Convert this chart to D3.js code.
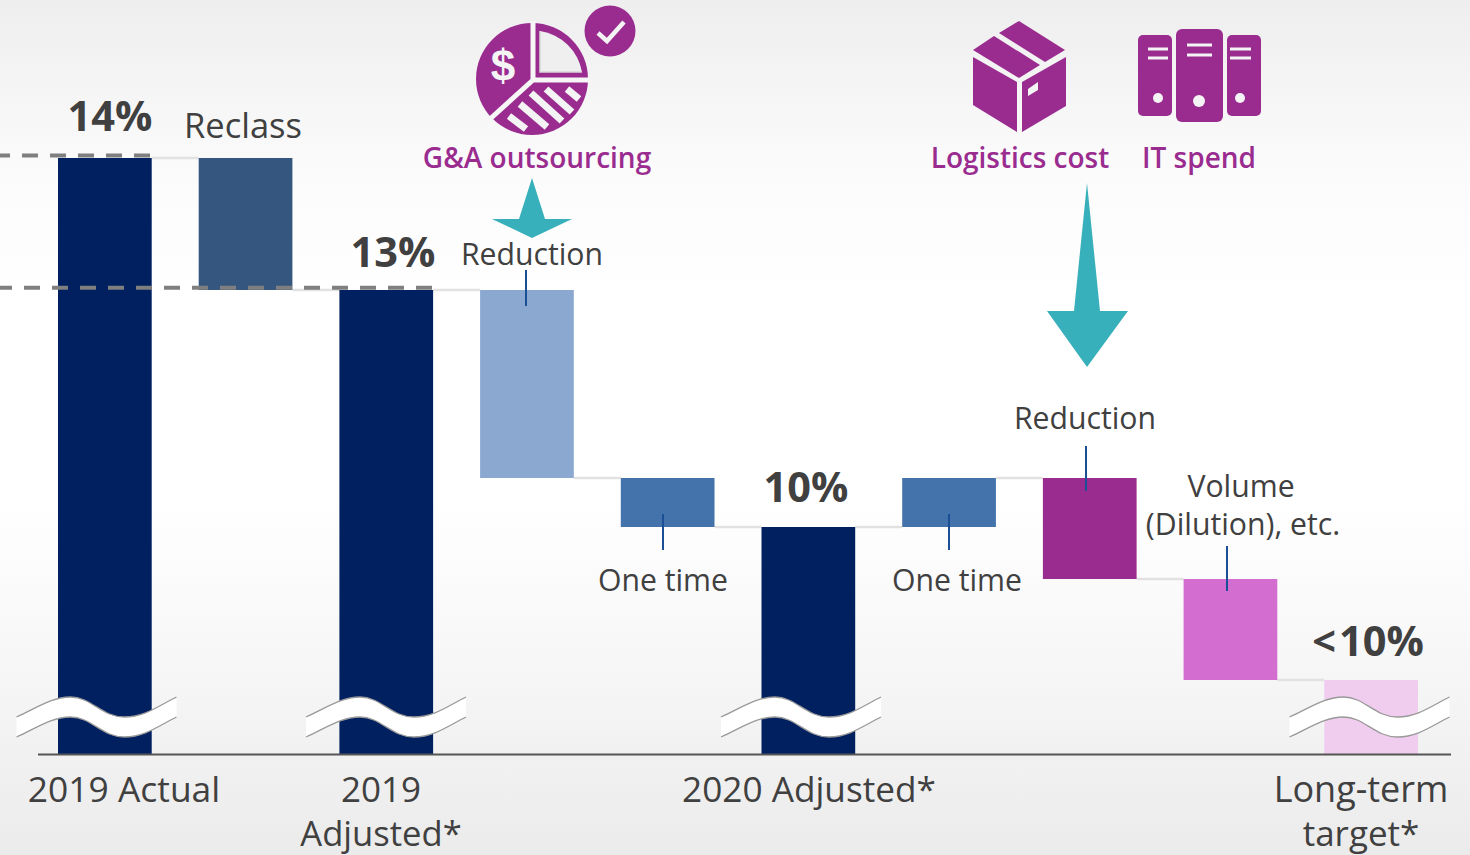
<!DOCTYPE html>
<html><head><meta charset="utf-8">
<script src="https://cdn.jsdelivr.net/npm/d3@7"></script>
<style>html,body{margin:0;padding:0;background:#fff;overflow:hidden}svg{display:block}text{font-family:"Open Sans","Noto Sans",sans-serif}</style>
</head><body><svg id="c" width="1470" height="855"></svg>
<script>
// Chart values (schematic, broken-axis waterfall; units)
const categories=["2019 Actual","Reclass","2019 Adjusted*","Reduction","One time A","2020 Adjusted*","One time B","Reduction B","Volume","Long-term target*"];
const barLow =[0,11.6,0,6.9,5.675,0,5.675,4.375,1.85,0];
const barHigh=[14.9,14.9,11.6,11.6,6.9,5.675,6.9,6.9,4.375,1.85];
const barColors=["#002060","#34567f","#002060","#8aa8d0","#4472aa","#002060","#4472aa","#9a2c90","#d36dd0","#f0cdef"];
const totalLabels=[["14%",0],["13%",2],["10%",5]];
const breaks=[0,2,5,9];

const W=1470,H=855;
const svg=d3.select("#c");
const x=d3.scaleBand().domain(categories).range([58,1418]).paddingInner(0.334).paddingOuter(0);
const y=d3.scaleLinear().domain([0,14.9]).range([754,158]);
const dark="#404040",purple="#9a2c90",teal="#38b0bb";

const defs=svg.append("defs");
const g=defs.append("linearGradient").attr("id","bg").attr("x1",0).attr("y1",0).attr("x2",0).attr("y2",1);
[[0,"#eeeeee"],[0.2,"#fbfbfb"],[0.35,"#ffffff"],[0.58,"#ffffff"],[0.75,"#f8f8f8"],[1,"#ebebeb"]].forEach(s=>g.append("stop").attr("offset",s[0]).attr("stop-color",s[1]));
svg.append("rect").attr("width",W).attr("height",H).attr("fill","url(#bg)");

// connectors
const conn=svg.append("g").attr("stroke","#e2e2e2").attr("stroke-width",2.5);
const connLevels=[14.9,11.6,11.6,6.9,5.675,5.675,6.9,4.375,1.85];
connLevels.forEach((v,i)=>{
  conn.append("line").attr("x1",x(categories[i])+x.bandwidth()).attr("x2",x(categories[i+1])).attr("y1",y(v)).attr("y2",y(v));
});

// bars
svg.append("g").selectAll("rect").data(categories).join("rect")
 .attr("x",d=>x(d)).attr("width",x.bandwidth())
 .attr("y",(d,i)=>y(barHigh[i])).attr("height",(d,i)=>y(barLow[i])-y(barHigh[i]))
 .attr("fill",(d,i)=>barColors[i]);

// dashed reference lines
const dash=svg.append("g").attr("stroke","#7f7f7f").attr("stroke-width",4).attr("stroke-dasharray","16 12");
dash.append("line").attr("x1",-6).attr("x2",x(categories[0])+x.bandwidth()).attr("y1",155.4).attr("y2",155.4);
dash.append("line").attr("x1",-4).attr("x2",x(categories[2])+x.bandwidth()).attr("y1",287.7).attr("y2",287.7);

// axis baseline
svg.append("line").attr("x1",38).attr("x2",1451).attr("y1",754.5).attr("y2",754.5).attr("stroke","#555").attr("stroke-width",2);

// leader ticks
const ticks=[[526,270,306],[663,514,550],[949,514,550],[1086,446,491],[1227,546,591]];
svg.append("g").attr("stroke","#1a4f96").attr("stroke-width",2).selectAll("line").data(ticks).join("line")
 .attr("x1",d=>d[0]).attr("x2",d=>d[0]).attr("y1",d=>d[1]).attr("y2",d=>d[2]);

// axis break waves
breaks.forEach((b,i)=>{
  const cx=[96.5,386,801,1369.5][i];
  const wave=(dy)=>`M${cx-80} ${717+dy}C${cx-60} ${708+dy} ${cx-45} ${697+dy} ${cx-26} ${697+dy}C${cx-5} ${697+dy} ${cx+5} ${717+dy} ${cx+28} ${717+dy}C${cx+48} ${717+dy} ${cx+62} ${706+dy} ${cx+80} ${697+dy}`;
  const rev=`L${cx+80} 717C${cx+62} 726 ${cx+48} 737 ${cx+28} 737C${cx+5} 737 ${cx-5} 717 ${cx-26} 717C${cx-45} 717 ${cx-60} 728 ${cx-80} 737Z`;
  svg.append("path").attr("d",wave(0)+rev).attr("fill","#fff");
  svg.append("path").attr("d",wave(0)).attr("fill","none").attr("stroke","#999").attr("stroke-width",1.3);
  svg.append("path").attr("d",wave(20)).attr("fill","none").attr("stroke","#999").attr("stroke-width",1.3);
});

// text helper
function T(s,px,py,size,fill,weight,anchor){
  return svg.append("text").attr("x",px).attr("y",py).attr("font-size",size).attr("fill",fill)
    .attr("font-weight",weight||400).attr("text-anchor",anchor||"middle").text(s);
}
// total labels
const totalX={0:110,2:393,5:806};const totalY={0:131,2:267,5:502};
totalLabels.forEach(([s,i])=>T(s,totalX[i],totalY[i],41.5,dark,700));
const lt=svg.append("text").attr("x",1368).attr("y",656).attr("font-size",41.5).attr("font-weight",700).attr("fill",dark).attr("text-anchor","middle");
lt.append("tspan").text("<");
lt.append("tspan").attr("dx",3).text("10%");
// annotation text
[["Reclass",243,138,34.5],["Reduction",532,265,30.2],["One time",663,591,30.2],["One time",957,591,30.2],["Reduction",1085,429,30.2],["Volume",1241,497,30.2],["(Dilution), etc.",1243,535,30.2]]
 .forEach(d=>T(d[0],d[1],d[2],d[3],dark));
// axis labels
[["2019 Actual",124,802,35.4],["2019",381,802,35],["Adjusted*",381,846,34.6],["2020 Adjusted*",809,802,35.2],["Long-term",1361,802,36],["target*",1361,846,35]]
 .forEach(d=>T(d[0],d[1],d[2],d[3],dark));
// driver labels
[["G&A outsourcing",537,168],["Logistics cost",1020,168],["IT spend",1199,168]].forEach(d=>T(d[0],d[1],d[2],28,purple,600));

// teal arrows
svg.append("path").attr("fill",teal).attr("d","M532 178L545 219L572 219L532 238L492 219L519 219Z");
svg.append("path").attr("fill",teal).attr("d","M1087 183L1100 311L1128 311L1087 367L1047 311L1074 311Z");

// pie icon
const pie=svg.append("g").attr("transform","translate(532,79)");
const arc=d3.arc();
pie.append("path").attr("fill",purple).attr("d",arc({innerRadius:0,outerRadius:56,startAngle:0,endAngle:2*Math.PI}));
pie.append("path").attr("fill","none").attr("stroke","#f6f6f6").attr("stroke-width",5).attr("d","M1 -58V1H58M1 1L-42 40");
pie.append("path").attr("fill","#efefef").attr("d","M8 -48A50 50 0 0 1 50 -7H8Z");
pie.append("path").attr("fill","none").attr("stroke","#d8d8d8").attr("stroke-width",1.5).attr("d","M8 -48V-7H50");
const stripes=[[-23,37,-6,50],[-12,25,15,48],[-1,14,30,42],[14,10,40,33],[35,10,47,20]];
pie.append("g").attr("stroke","#f4f4f4").attr("stroke-width",7).selectAll("line").data(stripes).join("line")
 .attr("x1",d=>d[0]).attr("y1",d=>d[1]).attr("x2",d=>d[2]).attr("y2",d=>d[3]);
pie.append("text").attr("x",-29).attr("y",2).attr("text-anchor","middle").attr("font-size",44).attr("font-weight",700).attr("fill","#f4f4f4").style("font-family","'Liberation Sans',sans-serif").text("$");
// check badge
svg.append("circle").attr("cx",610).attr("cy",31).attr("r",25.5).attr("fill",purple);
svg.append("path").attr("d","M598 33L607 41L624 22").attr("fill","none").attr("stroke","#f4f4f4").attr("stroke-width",4.5);

// box icon
const ic=svg.append("g").attr("fill",purple);
ic.append("path").attr("d","M1019 21L1065 50L1045 62L999 33Z");
ic.append("path").attr("d","M994 36L1040 65L1019 78L973 50Z");
ic.append("path").attr("d","M973 57L1017 82V132L973 105Z");
ic.append("path").attr("fill-rule","evenodd").attr("d","M1022 82L1066 57V106L1022 132ZM1028 89V96L1038 90V82Z");
// server icon
ic.append("rect").attr("x",1138).attr("y",35).attr("width",34).attr("height",81).attr("rx",5);
ic.append("rect").attr("x",1176).attr("y",29).attr("width",47).attr("height",93).attr("rx",6);
ic.append("rect").attr("x",1227).attr("y",35).attr("width",34).attr("height",81).attr("rx",5);
const lines=[[1148,1168,49],[1148,1168,58],[1187,1212,45],[1187,1212,55],[1230,1251,49],[1230,1251,58]];
svg.append("g").attr("stroke","#f4f4f4").attr("stroke-width",3).selectAll("line").data(lines).join("line")
 .attr("x1",d=>d[0]).attr("x2",d=>d[1]).attr("y1",d=>d[2]).attr("y2",d=>d[2]);
svg.append("g").attr("fill","#f4f4f4").selectAll("circle").data([[1158,98,5],[1199,101,6],[1240,98,5]]).join("circle")
 .attr("cx",d=>d[0]).attr("cy",d=>d[1]).attr("r",d=>d[2]);
</script></body></html>
